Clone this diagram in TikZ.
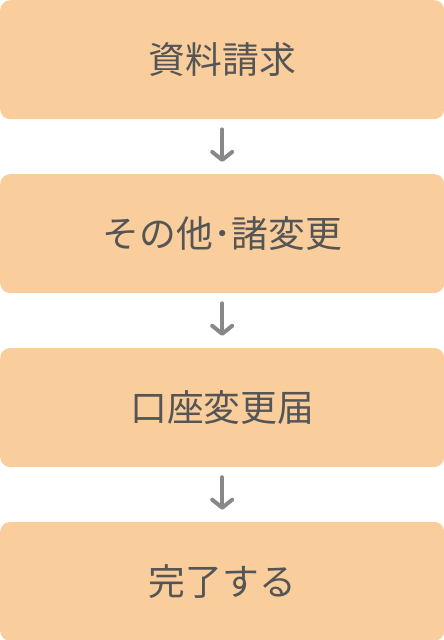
\documentclass[tikz,border=0pt]{standalone}
\usepackage{fontspec}
\usepackage{xcolor}
\usepackage{tikz}
\usetikzlibrary{arrows.meta,positioning}
\newfontfamily\jpfont{Noto Sans CJK JP}
\definecolor{boxfill}{HTML}{F9CE9C}
\definecolor{boxtext}{HTML}{555555}
\definecolor{arrowgray}{HTML}{888888}

\begin{document}
\begin{tikzpicture}
        [
            x = 1pt, y = 1pt,
            stepbox/.style = {fill = boxfill, rounded corners = 10pt, minimum width = 444pt, minimum height = 119pt,
                inner sep = 0pt, text = boxtext, font = \jpfont\fontsize{36.8pt}{40pt}\selectfont},
            flow/.style = {draw = arrowgray, line width = 4pt, line cap = round,
                -{Straight Barb[length = 8pt, width = 20pt, line cap = round, line join = round]},
                shorten <= 10pt, shorten >= 12pt},
            node distance = 54.5pt]
        \useasboundingbox (0,0) rectangle (444,-640);
        \node[stepbox, anchor = north west] (shiryou) at (0,0) {資料請求};
        \node[stepbox, below = of shiryou] (sonota) {その他･諸変更};
        \node[stepbox, below = of sonota] (kouza) {口座変更届};
        \node[stepbox, below = of kouza] (kanryou) {完了する};
        \draw[flow] (shiryou) -- (sonota);
        \draw[flow] (sonota) -- (kouza);
        \draw[flow] (kouza) -- (kanryou);
    \end{tikzpicture}
\end{document}
